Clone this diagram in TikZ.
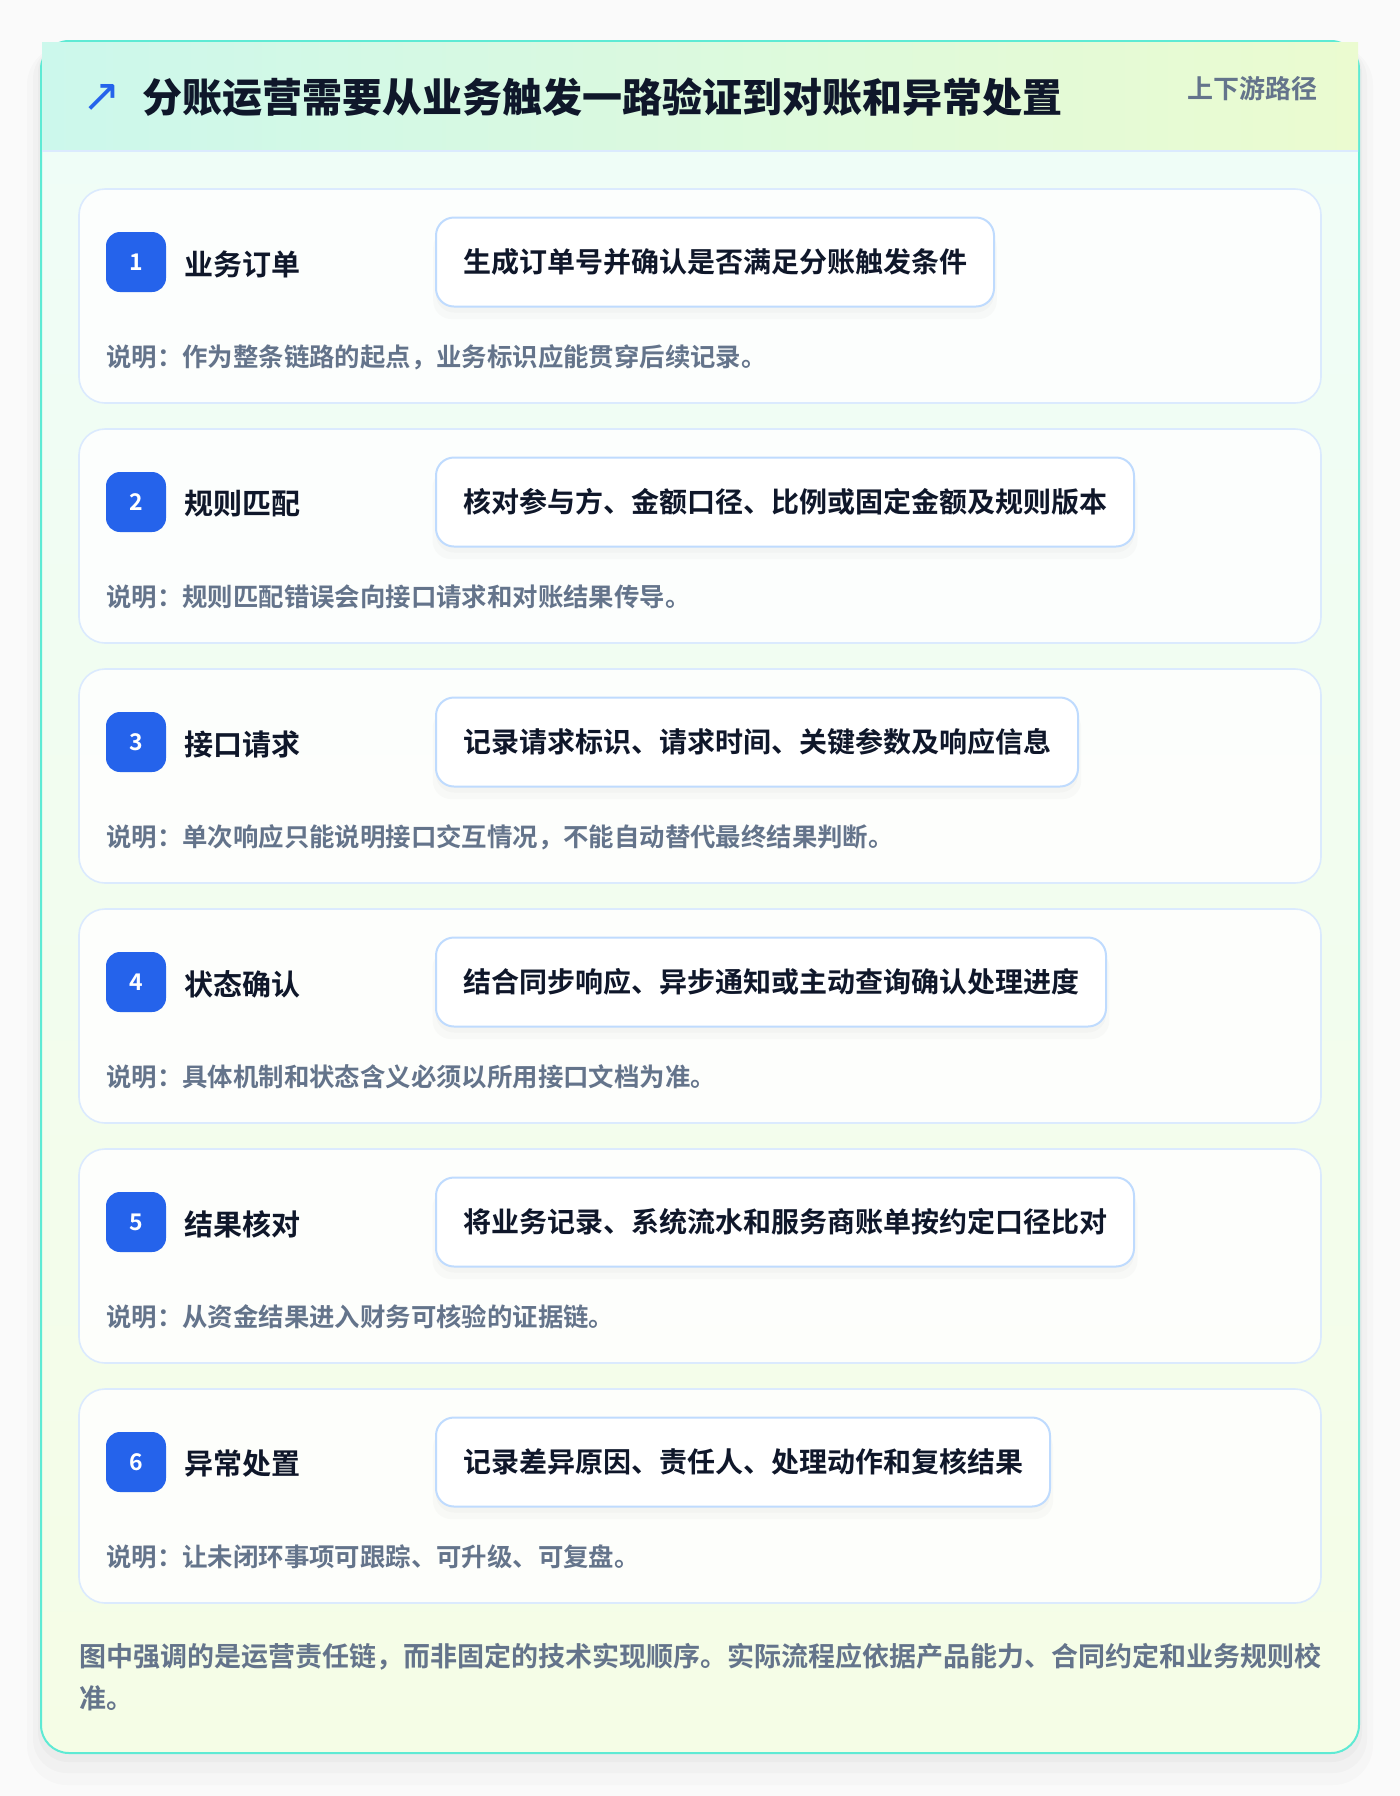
\documentclass[tikz,border=0pt]{standalone}
\usepackage{fontspec}
\setmainfont{Noto Sans CJK SC}[BoldFont={Noto Sans CJK SC Bold}]
\newfontfamily\titlefont{Noto Sans CJK SC Black}
\newfontfamily\symfont{DejaVu Sans}
\usetikzlibrary{shadows}
\definecolor{ink}{HTML}{0F172A}
\definecolor{muted}{HTML}{64748B}
\definecolor{stepblue}{HTML}{2563EB}
\definecolor{cardline}{HTML}{5EEAD4}
\definecolor{rowline}{HTML}{DBEAFE}
\definecolor{descline}{HTML}{BFDBFE}
\definecolor{hdleft}{HTML}{CCF8EC}
\definecolor{hdright}{HTML}{EBFBD0}
\definecolor{bodytop}{HTML}{EFFDF8}
\definecolor{bodybot}{HTML}{F5FDE6}
\definecolor{pagebg}{HTML}{FAFAFA}
\begin{document}
\begin{tikzpicture}[x=0.5pt,y=-0.5pt,
	rowcard/.style={draw=rowline,line width=0.8pt,fill=white,fill opacity=0.85,rounded corners=13pt},
	badge/.style={fill=stepblue,text=white,rounded corners=7pt,minimum size=30pt,inner sep=0pt,font=\fontsize{11.5}{11.5}\selectfont\bfseries},
	steplabel/.style={anchor=west,inner sep=0pt,text=ink,font=\fontsize{14.5}{14.5}\selectfont\bfseries},
	descbox/.style={anchor=west,draw=descline,line width=1pt,fill=white,rounded corners=9pt,minimum height=44.5pt,inner xsep=13.5pt,text=ink,font=\fontsize{14}{14}\selectfont\bfseries,
		drop shadow={shadow xshift=0pt,shadow yshift=-6pt,shadow scale=1.01,opacity=0.035},
		drop shadow={shadow xshift=0pt,shadow yshift=-3pt,opacity=0.04}},
	notetext/.style={anchor=west,inner sep=0pt,text=muted,font=\fontsize{12.7}{12.7}\selectfont\bfseries}]
	% page and card
	\fill[pagebg] (0,0) rectangle (1400,1796);
	\useasboundingbox (0,0) rectangle (1400,1796);
	\fill[black,opacity=0.015,rounded corners=20pt] (27,45) rectangle (1373,1785);
	\fill[black,opacity=0.02,rounded corners=17pt] (33,45) rectangle (1367,1773);
	\fill[black,opacity=0.025,rounded corners=15pt] (38,43) rectangle (1362,1762);
	\shade[top color=bodytop,bottom color=bodybot,rounded corners=14pt] (41,41) rectangle (1359,1753);
	\draw[cardline,line width=1pt,rounded corners=14pt] (41,41) rectangle (1359,1753);
	\shade[left color=hdleft,right color=hdright] (42,42) rectangle (1358,151);
	\draw[rowline,line width=1pt] (42,151)--(1358,151);
	\node[text=stepblue,inner sep=0pt,font=\symfont\fontsize{23}{23}\selectfont] (icon) at (102,98) {↗};
	\node[anchor=west,inner sep=0pt,text=ink,font=\titlefont\fontsize{20}{20}\selectfont] (title) at (142,97) {分账运营需要从业务触发一路验证到对账和异常处置};
	\node[anchor=east,inner sep=0pt,text=muted,font=\fontsize{13}{13}\selectfont\bfseries] (tag) at (1318,89) {上下游路径};
	% step 1
	\draw[rowcard] (79,189) rectangle (1321,403);
	\node[badge] (b1) at (136,262) {1};
	\node[steplabel] (l1) at (184,264) {业务订单};
	\node[descbox] (d1) at (435,262) {生成订单号并确认是否满足分账触发条件};
	\node[notetext] (n1) at (106,357) {说明：作为整条链路的起点，业务标识应能贯穿后续记录。};
	% step 2
	\draw[rowcard] (79,429) rectangle (1321,643);
	\node[badge] (b2) at (136,502) {2};
	\node[steplabel] (l2) at (184,504) {规则匹配};
	\node[descbox] (d2) at (435,502) {核对参与方、金额口径、比例或固定金额及规则版本};
	\node[notetext] (n2) at (106,597) {说明：规则匹配错误会向接口请求和对账结果传导。};
	% step 3
	\draw[rowcard] (79,669) rectangle (1321,883);
	\node[badge] (b3) at (136,742) {3};
	\node[steplabel] (l3) at (184,744) {接口请求};
	\node[descbox] (d3) at (435,742) {记录请求标识、请求时间、关键参数及响应信息};
	\node[notetext] (n3) at (106,837) {说明：单次响应只能说明接口交互情况，不能自动替代最终结果判断。};
	% step 4
	\draw[rowcard] (79,909) rectangle (1321,1123);
	\node[badge] (b4) at (136,982) {4};
	\node[steplabel] (l4) at (184,984) {状态确认};
	\node[descbox] (d4) at (435,982) {结合同步响应、异步通知或主动查询确认处理进度};
	\node[notetext] (n4) at (106,1077) {说明：具体机制和状态含义必须以所用接口文档为准。};
	% step 5
	\draw[rowcard] (79,1149) rectangle (1321,1363);
	\node[badge] (b5) at (136,1222) {5};
	\node[steplabel] (l5) at (184,1224) {结果核对};
	\node[descbox] (d5) at (435,1222) {将业务记录、系统流水和服务商账单按约定口径比对};
	\node[notetext] (n5) at (106,1317) {说明：从资金结果进入财务可核验的证据链。};
	% step 6
	\draw[rowcard] (79,1389) rectangle (1321,1603);
	\node[badge] (b6) at (136,1462) {6};
	\node[steplabel] (l6) at (184,1464) {异常处置};
	\node[descbox] (d6) at (435,1462) {记录差异原因、责任人、处理动作和复核结果};
	\node[notetext] (n6) at (106,1557) {说明：让未闭环事项可跟踪、可升级、可复盘。};
	% footer
	\node[anchor=west,inner sep=0pt,align=left,text=muted,font=\fontsize{13.5}{21}\selectfont\bfseries] (foot) at (79,1677) {图中强调的是运营责任链，而非固定的技术实现顺序。实际流程应依据产品能力、合同约定和业务规则校\\准。};
\end{tikzpicture}
\end{document}
